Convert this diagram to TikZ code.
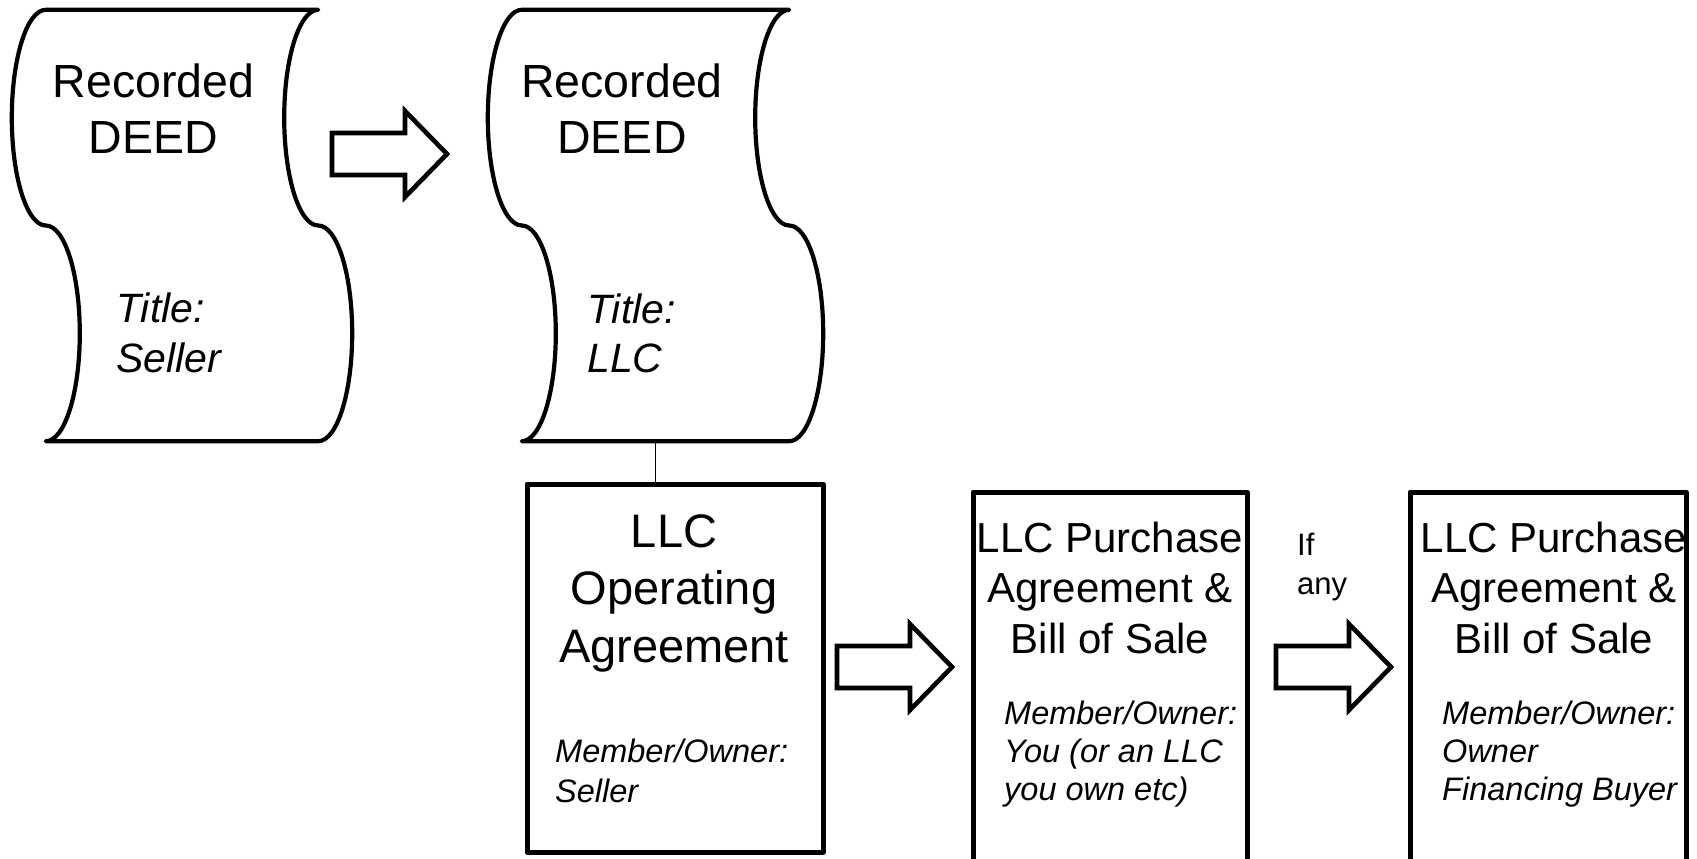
\documentclass[tikz,border=0pt]{standalone}
\usepackage{fontspec}
\setmainfont{Liberation Sans}
\usetikzlibrary{calc}

% Outline of a vertical "punched tape" document: flat top and bottom,
% each side made of two half-ellipses bulging in opposite directions.
\newcommand\tapeoutline[1]{%
\draw[outline] let \p1=(#1.north west), \p2=(#1.south east), \n1={(\y1-\y2)/4} in
 (\x1,\y1) -- (\x2,\y1)
 .. controls (\x2-18.8pt,\y1) and (\x2-34pt,\y1-0.4477*\n1) .. (\x2-34pt,\y1-\n1)
 .. controls (\x2-34pt,\y1-1.5523*\n1) and (\x2-18.8pt,\y1-2*\n1) .. (\x2,\y1-2*\n1)
 .. controls (\x2+18.8pt,\y1-2*\n1) and (\x2+34pt,\y1-2.4477*\n1) .. (\x2+34pt,\y1-3*\n1)
 .. controls (\x2+34pt,\y1-3.5523*\n1) and (\x2+18.8pt,\y2) .. (\x2,\y2)
 -- (\x1,\y2)
 .. controls (\x1+18.8pt,\y2) and (\x1+34pt,\y1-3.5523*\n1) .. (\x1+34pt,\y1-3*\n1)
 .. controls (\x1+34pt,\y1-2.4477*\n1) and (\x1+18.8pt,\y1-2*\n1) .. (\x1,\y1-2*\n1)
 .. controls (\x1-18.8pt,\y1-2*\n1) and (\x1-34pt,\y1-1.5523*\n1) .. (\x1-34pt,\y1-\n1)
 .. controls (\x1-34pt,\y1-0.4477*\n1) and (\x1-18.8pt,\y1) .. (\x1,\y1)
 -- cycle;}

\tikzset{
  outline/.style={line width=4.2pt, line cap=round, line join=round},
  tapebody/.style={inner sep=0pt, minimum height=431pt},
  docbox/.style={draw, line width=5pt, line join=round, inner sep=0pt},
  bigtitle/.style={inner sep=0pt, align=center, font=\fontsize{46.5}{56}\selectfont},
  boxtitle/.style={inner sep=0pt, align=center, font=\fontsize{47}{57.5}\selectfont},
  midtitle/.style={inner sep=0pt, align=center, font=\fontsize{42}{50.5}\selectfont},
  holder/.style={inner sep=0pt, align=left, font=\fontsize{41}{49.5}\selectfont\itshape},
  member/.style={inner sep=0pt, align=left, font=\fontsize{32.5}{38}\selectfont\itshape},
  note/.style={inner sep=0pt, align=left, font=\fontsize{31}{39}\selectfont},
  blockarrow/.pic={\draw[line width=4.6pt, line join=miter]
     (-57.5,-21) -- (15.5,-21) -- (15.5,-43) -- (57.5,0) -- (15.5,43)
     -- (15.5,21) -- (-57.5,21) -- cycle;},
}

\begin{document}
\begin{tikzpicture}[x=1pt, y=-1pt]
\useasboundingbox (0,0) rectangle (1697,859);
\clip (0,0) rectangle (1697,859);

% deed documents
\node[tapebody, minimum width=272pt] (s1) at (182,225.5) {};
\node[tapebody, minimum width=267pt] (s2) at (655.5,225.5) {};
\tapeoutline{s1}
\tapeoutline{s2}

% text nodes are placed by the baseline of their last line
\node[bigtitle, anchor=base] (s1title) at (153.5,153) {Recorded\\DEED};
\node[holder, anchor=base west] (s1holder) at (116,372) {Title:\\Seller};
\node[bigtitle, anchor=base] (s2title) at (622,153) {Recorded\\DEED};
\node[holder, anchor=base west] (s2holder) at (587,372.5) {Title:\\LLC};

% agreement documents
\node[docbox, minimum width=296pt, minimum height=368pt] (b1) at (675,668) {};
\node[docbox, minimum width=274pt, minimum height=383pt] (b2) at (1110,683.5) {};
\node[docbox, minimum width=276pt, minimum height=383pt] (b3) at (1548,683.5) {};

\node[boxtitle, anchor=base] (b1title) at (674,662) {LLC\\Operating\\Agreement};
\node[member, anchor=base west, font=\fontsize{32.5}{40}\selectfont\itshape] (b1member) at (555,802) {Member/Owner:\\Seller};

\node[midtitle, anchor=base] (b2title) at (1110,653) {LLC Purchase\\Agreement \&\\Bill of Sale};
\node[member, anchor=base west] (b2member) at (1004,800) {Member/Owner:\\You (or an LLC\\you own etc)};

\node[midtitle, anchor=base] (b3title) at (1554,653) {LLC Purchase\\Agreement \&\\Bill of Sale};
\node[member, anchor=base west] (b3member) at (1442,800) {Member/Owner:\\Owner\\Financing Buyer};

\node[note, anchor=base west] (ifany) at (1297,594) {If\\any};

% transfer arrows
\pic (a1) at (389.5,154) {blockarrow};
\pic (a2) at (894.5,667) {blockarrow};
\pic (a3) at (1333.5,667) {blockarrow};

% link between the LLC deed and its operating agreement
\draw[line width=1.5pt] (s2.south) -- (s2.south |- b1.north);
\end{tikzpicture}
\end{document}
